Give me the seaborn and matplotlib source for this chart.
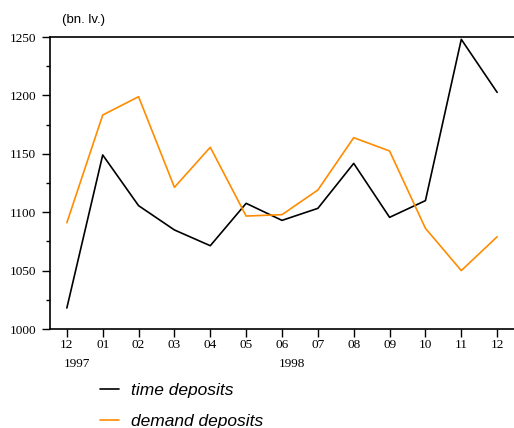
import numpy as np
import pandas as pd
import matplotlib
matplotlib.use("Agg")
import matplotlib.pyplot as plt
from matplotlib.ticker import MultipleLocator
from matplotlib.transforms import blended_transform_factory
import seaborn as sns

months = ["12", "01", "02", "03", "04", "05", "06", "07", "08", "09", "10", "11", "12"]
years = {0: "1997", 6: "1998"}
time_deposits = [1018, 1149, 1105.6, 1084.8, 1071.3, 1107.6, 1093, 1103.3, 1141.8, 1095.6, 1109.9, 1248, 1202.6]
demand_deposits = [1091, 1183.2, 1198.9, 1121.3, 1155.6, 1096.7, 1097.9, 1119, 1163.8, 1152.4, 1086.2, 1050, 1079]

series_names = ["time deposits", "demand deposits"]
colors = ["#000000", "#ff8c00"]

pos = np.arange(len(months))
df = pd.DataFrame({
    "pos": np.concatenate([pos, pos]),
    "value": time_deposits + demand_deposits,
    "series": [series_names[0]] * len(pos) + [series_names[1]] * len(pos),
})

sns.set_style("white")
plt.rcParams["font.family"] = ["Liberation Serif", "DejaVu Serif"]
plt.rcParams["text.color"] = "black"

fig = plt.figure(figsize=(5.14, 4.28), dpi=100)
ax = fig.add_axes([50 / 514, 99 / 428, 1 - 50 / 514, 292 / 428])

sns.lineplot(data=df, x="pos", y="value", hue="series", palette=colors,
             hue_order=series_names, ax=ax, linewidth=1.2, legend=False)

ax.set_xlim(-0.47, 12.47)
ax.set_ylim(1000, 1250)
ax.yaxis.set_major_locator(MultipleLocator(50))
ax.yaxis.set_minor_locator(MultipleLocator(25))
ax.set_xticks(pos)
ax.set_xticklabels(months)
ax.tick_params(axis="both", which="both", direction="out", labelsize=9.5, colors="black",
               width=1.0)
ax.tick_params(axis="x", length=5.5, pad=2)
ax.tick_params(axis="y", which="major", length=6, pad=4, left=True)
ax.tick_params(axis="y", which="minor", length=3, left=True)
ax.tick_params(axis="x", bottom=True)
ax.set_xlabel("")
ax.set_ylabel("")

for side in ["left", "bottom", "top"]:
    ax.spines[side].set_visible(True)
    ax.spines[side].set_color("black")
    ax.spines[side].set_linewidth(1.2)
ax.spines["right"].set_visible(False)

trans = blended_transform_factory(ax.transData, ax.transAxes)
for i, yr in years.items():
    ax.text(i + 0.28, -0.098, yr, transform=trans, ha="center", va="top", fontsize=9.5,
            color="black")

fig.text(62 / 514, 1 - 20 / 428, "(bn. lv.)", family=["Liberation Sans", "DejaVu Sans"],
         fontsize=9.5, ha="left", va="center", color="black")

handles = [plt.Line2D([], [], color=c, linewidth=1.2) for c in colors]
fig.legend(handles, series_names, loc="upper left", bbox_to_anchor=(84 / 514, 1 - 367 / 428),
           frameon=False, handlelength=1.1, handletextpad=0.7, labelspacing=0.95,
           labelcolor="black",
           prop={"family": ["Liberation Sans", "DejaVu Sans"], "style": "italic", "size": 12.5})

fig.savefig("out.png", dpi=100)
